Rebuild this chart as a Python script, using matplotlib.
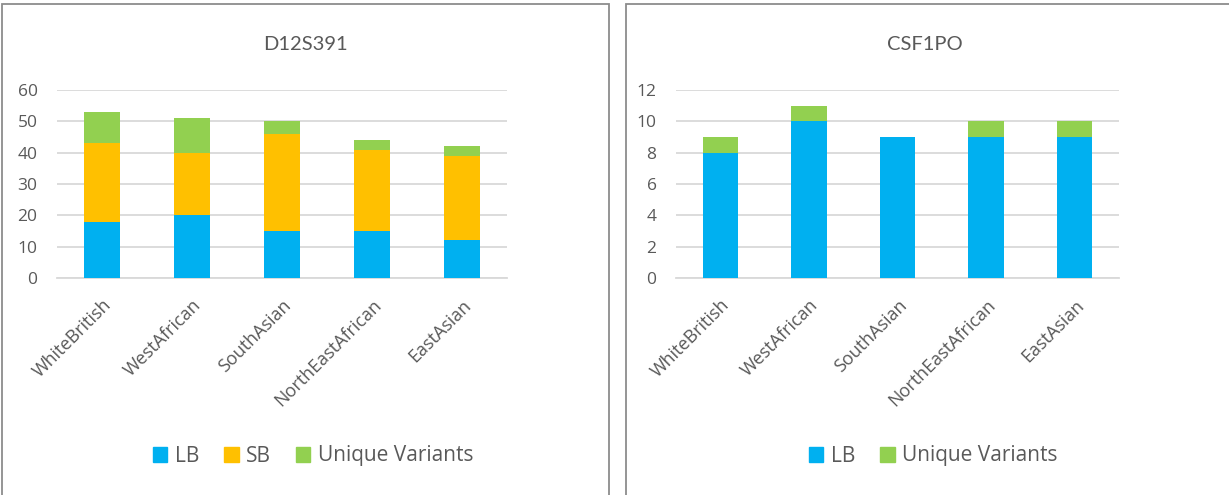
import matplotlib.pyplot as plt
from matplotlib.patches import Rectangle, Patch

plt.rcParams['font.family'] = ['Open Sans', 'DejaVu Sans']

populations = ['WhiteBritish', 'WestAfrican', 'SouthAsian', 'NorthEastAfrican', 'EastAsian']

d12_lb = [18, 20, 15, 15, 12]
d12_sb = [25, 20, 31, 26, 27]
d12_unique = [10, 11, 4, 3, 3]

csf_lb = [8, 10, 9, 9, 9]
csf_unique = [1, 1, 0, 1, 1]

c_lb = '#00b0f0'
c_sb = '#ffc000'
c_uv = '#92d050'
txt = '#595959'
grid = '#d9d9d9'

fig = plt.figure(figsize=(12.29, 4.95), dpi=100)

# chart frames
fig.patches.append(Rectangle((2 / 1229, -0.05), 607 / 1229, 1.05 - 4 / 495,
                             transform=fig.transFigure, fill=False,
                             edgecolor='#8c8c8c', lw=1.3))
fig.patches.append(Rectangle((626 / 1229, -0.05), 610 / 1229, 1.05 - 4 / 495,
                             transform=fig.transFigure, fill=False,
                             edgecolor='#8c8c8c', lw=1.3))

ax1 = fig.add_axes([57 / 1229, 1 - 278 / 495, 450 / 1229, 188 / 495])
ax2 = fig.add_axes([676 / 1229, 1 - 278 / 495, 443 / 1229, 188 / 495])

x = range(len(populations))
w = 0.4

ax1.bar(x, d12_lb, w, color=c_lb)
ax1.bar(x, d12_sb, w, bottom=d12_lb, color=c_sb)
ax1.bar(x, d12_unique, w, bottom=[a + b for a, b in zip(d12_lb, d12_sb)], color=c_uv)
ax1.set_ylim(0, 60)
ax1.set_yticks(range(0, 61, 10))

ax2.bar(x, csf_lb, w, color=c_lb)
ax2.bar(x, csf_unique, w, bottom=csf_lb, color=c_uv)
ax2.set_ylim(0, 12)
ax2.set_yticks(range(0, 13, 2))

for ax in (ax1, ax2):
    ax.set_xlim(-0.5, 4.5)
    ax.set_xticks(list(x))
    ax.set_xticklabels(populations, rotation=45, ha='right', rotation_mode='anchor',
                       fontsize=13, color=txt)
    ax.tick_params(axis='y', labelsize=12.5, labelcolor=txt, length=0, pad=14)
    ax.tick_params(axis='x', length=0, pad=13)
    ax.yaxis.grid(True, color=grid, lw=1.3)
    ax.set_axisbelow(True)
    for s in ('top', 'right', 'left'):
        ax.spines[s].set_visible(False)
    ax.spines['bottom'].set_color(grid)
    ax.spines['bottom'].set_linewidth(1.3)
    ax.spines['bottom'].set_zorder(0.5)

fig.text(305 / 1229, 1 - 44 / 495, 'D12S391', ha='center', va='center',
         fontsize=14.5, color=txt, family='Lato')
fig.text(925 / 1229, 1 - 44 / 495, 'CSF1PO', ha='center', va='center',
         fontsize=14.5, color=txt, family='Lato')

fig.legend(handles=[Patch(color=c_lb, label='LB'), Patch(color=c_sb, label='SB'),
                    Patch(color=c_uv, label='Unique Variants')],
           loc='center', bbox_to_anchor=(313 / 1229, 1 - 456 / 495), ncol=3,
           frameon=False, fontsize=15, labelcolor=txt, handlelength=0.7,
           handleheight=0.7, handletextpad=0.35, columnspacing=1.2)
fig.legend(handles=[Patch(color=c_lb, label='LB'), Patch(color=c_uv, label='Unique Variants')],
           loc='center', bbox_to_anchor=(933 / 1229, 1 - 456 / 495), ncol=2,
           frameon=False, fontsize=15, labelcolor=txt, handlelength=0.7,
           handleheight=0.7, handletextpad=0.35, columnspacing=1.2)

fig.savefig('out.png', dpi=100)
